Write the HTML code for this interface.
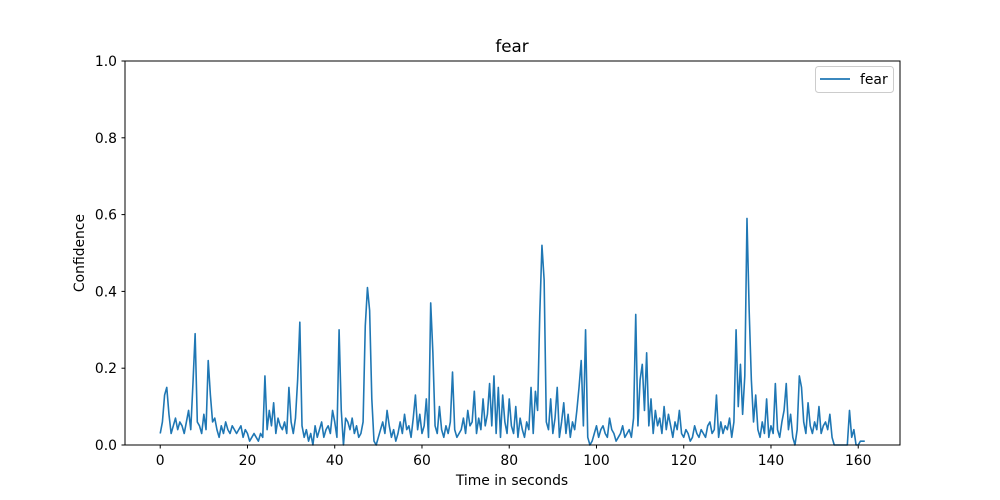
<!DOCTYPE html>
<html><head><meta charset="utf-8"><style>
body{margin:0;background:#fff;}
svg{display:block;font-family:"DejaVu Sans","Liberation Sans",sans-serif;}
</style></head><body>
<svg id="chart" width="1000" height="500">
<rect x="0" y="0" width="1000" height="500" fill="#fff"/>
<text x="512" y="52" text-anchor="middle" font-size="16.7">fear</text>
<g id="ticks"></g>
<path id="series" fill="none" stroke="#1f77b4" stroke-width="1.6" stroke-linejoin="round"/>
<rect x="125" y="61" width="775" height="384" fill="none" stroke="#000" stroke-width="1"/>
<text x="512" y="485" text-anchor="middle" font-size="13.9">Time in seconds</text>
<text x="84" y="253" text-anchor="middle" font-size="13.9" transform="rotate(-90 84 253)">Confidence</text>
<g>
<rect x="815.5" y="66.5" width="78" height="26" rx="3" fill="#fff" stroke="#ccc"/>
<line x1="820" y1="79" x2="850" y2="79" stroke="#1f77b4" stroke-width="1.8"/>
<text x="860" y="84" font-size="13.9">fear</text>
</g>
</svg>
<script>
const step = 0.5;
const values = [
0.03,0.06,0.13,0.15,0.08,0.03,0.05,0.07,0.04,0.06,
0.05,0.03,0.06,0.09,0.04,0.16,0.29,0.06,0.05,0.03,
0.08,0.04,0.22,0.13,0.06,0.07,0.04,0.02,0.05,0.03,
0.06,0.04,0.03,0.05,0.04,0.03,0.04,0.05,0.02,0.04,
0.03,0.01,0.02,0.03,0.02,0.01,0.03,0.02,0.18,0.04,
0.09,0.05,0.11,0.03,0.07,0.05,0.04,0.06,0.03,0.15,
0.06,0.03,0.07,0.17,0.32,0.05,0.02,0.04,0.01,0.03,
0.00,0.05,0.02,0.04,0.06,0.02,0.04,0.05,0.03,0.09,
0.06,0.02,0.30,0.09,0.00,0.07,0.06,0.04,0.07,0.03,
0.05,0.02,0.03,0.06,0.31,0.41,0.35,0.12,0.01,0.00,
0.02,0.04,0.06,0.03,0.09,0.05,0.02,0.04,0.01,0.03,
0.06,0.03,0.08,0.04,0.05,0.02,0.07,0.13,0.04,0.08,
0.03,0.05,0.12,0.02,0.37,0.24,0.05,0.03,0.10,0.04,
0.02,0.05,0.03,0.06,0.19,0.04,0.02,0.03,0.04,0.07,
0.03,0.09,0.05,0.06,0.14,0.03,0.07,0.04,0.12,0.05,
0.08,0.16,0.05,0.18,0.03,0.15,0.02,0.13,0.06,0.03,
0.12,0.05,0.03,0.10,0.02,0.07,0.04,0.02,0.06,0.04,
0.15,0.03,0.14,0.09,0.34,0.52,0.43,0.06,0.04,0.12,
0.03,0.07,0.15,0.02,0.06,0.11,0.03,0.08,0.02,0.06,
0.04,0.09,0.15,0.22,0.05,0.30,0.02,0.00,0.01,0.03,
0.05,0.02,0.04,0.05,0.03,0.02,0.07,0.04,0.03,0.01,
0.02,0.03,0.05,0.02,0.03,0.04,0.02,0.07,0.34,0.05,
0.17,0.21,0.09,0.24,0.05,0.12,0.03,0.09,0.05,0.07,
0.03,0.10,0.04,0.08,0.05,0.02,0.06,0.04,0.09,0.03,
0.02,0.04,0.03,0.01,0.02,0.05,0.03,0.02,0.04,0.03,
0.02,0.05,0.06,0.03,0.04,0.13,0.02,0.06,0.03,0.05,
0.04,0.07,0.02,0.06,0.30,0.10,0.21,0.08,0.18,0.59,
0.35,0.17,0.06,0.13,0.04,0.02,0.06,0.03,0.12,0.02,
0.05,0.03,0.16,0.04,0.02,0.06,0.09,0.16,0.04,0.08,
0.02,0.00,0.04,0.18,0.15,0.06,0.03,0.11,0.05,0.03,
0.06,0.04,0.10,0.03,0.05,0.06,0.04,0.08,0.02,0.00,
0.00,0.00,0.00,0.00,0.00,0.00,0.09,0.02,0.04,0.00,
0.00,0.01,0.01,0.01
];
const xTicks = [0,20,40,60,80,100,120,140,160];
const yTicks = [0.0,0.2,0.4,0.6,0.8,1.0];
const yTickLabels = ["0.0","0.2","0.4","0.6","0.8","1.0"];

const xMax = (values.length-1)*step;
const pad = xMax*0.05;
const X0=125, X1=900, Y0=445, Y1=61;
function sx(v){return X0+(v+pad)/(xMax+2*pad)*(X1-X0);}
function sy(v){return Y0-v*(Y0-Y1);}

const NS="http://www.w3.org/2000/svg";
const g=document.getElementById('ticks');
xTicks.forEach(t=>{
  const l=document.createElementNS(NS,'line');
  l.setAttribute('x1',sx(t));l.setAttribute('x2',sx(t));l.setAttribute('y1',445);l.setAttribute('y2',448.5);l.setAttribute('stroke','#000');
  
  
  g.appendChild(l);
  const tx=document.createElementNS(NS,'text');
  tx.setAttribute('x',sx(t));tx.setAttribute('y',465);tx.setAttribute('text-anchor','middle');tx.setAttribute('font-size','13.9');
  tx.textContent=t;
  
  
  g.appendChild(tx);
});
yTicks.forEach((t,i)=>{
  const l=document.createElementNS(NS,'line');
  l.setAttribute('x1',121.5);l.setAttribute('x2',125);l.setAttribute('y1',sy(t));l.setAttribute('y2',sy(t));l.setAttribute('stroke','#000');
  
  
  g.appendChild(l);
  const tx=document.createElementNS(NS,'text');
  tx.setAttribute('x',117);tx.setAttribute('y',sy(t)+5);tx.setAttribute('text-anchor','end');tx.setAttribute('font-size','13.9');
  tx.textContent=yTickLabels[i];
  
  
  g.appendChild(tx);
});
let d='';
values.forEach((v,i)=>{d+=(i?'L':'M')+sx(i*step).toFixed(2)+','+sy(v).toFixed(2);});
document.getElementById('series').setAttribute('d',d);
</script>
</body></html>
